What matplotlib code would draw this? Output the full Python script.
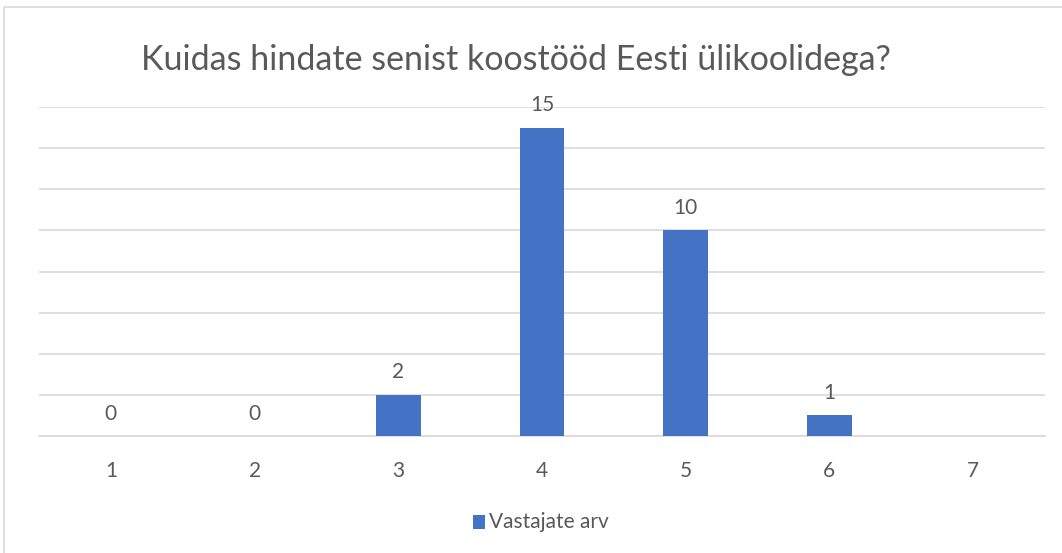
import matplotlib
matplotlib.use("Agg")
import matplotlib.pyplot as plt
import numpy as np
from matplotlib.patches import Rectangle

categories = ["1", "2", "3", "4", "5", "6", "7"]
values = [0, 0, 2, 15, 10, 1, np.nan]
series_name = "Vastajate arv"
title = "Kuidas hindate senist koostööd Eesti ülikoolidega?"

plt.rcParams['font.family'] = ['Lato', 'DejaVu Sans']
text_color = "#595959"
bar_color = "#4472C4"
grid_color = "#D9D9D9"

fig = plt.figure(figsize=(10.62, 5.53), dpi=100)
# outer chart border
fig.patches.append(Rectangle((4/1062, -0.1), 1.2, (553-7)/553 + 0.1, transform=fig.transFigure,
                             fill=False, edgecolor="#D9D9D9", linewidth=1.2))

ax = fig.add_axes([39/1062, 1-436/553, (1045-39)/1062, (436-107)/553])
x = np.arange(len(categories))
ax.bar(x, values, width=0.31, color=bar_color, zorder=3)
ax.set_xlim(-0.5, len(categories) - 0.5)
ax.set_ylim(0, 16)
ax.set_yticks(np.arange(0, 17, 2))
ax.yaxis.grid(True, color=grid_color, linewidth=1.2, zorder=0)
ax.set_yticklabels([])
ax.tick_params(axis='y', length=0)
ax.set_xticks(x)
ax.set_xticklabels(categories, fontsize=15, color=text_color)
ax.tick_params(axis='x', length=0, pad=18)
for s in ["top", "right", "left"]:
    ax.spines[s].set_visible(False)
ax.spines["bottom"].set_color(grid_color)
ax.spines["bottom"].set_linewidth(1.2)

for xi, v in zip(x, values):
    if np.isnan(v):
        continue
    ax.annotate(f"{int(v)}", (xi, v), xytext=(0, 9), textcoords="offset points",
                ha="center", va="bottom", fontsize=15, color=text_color)

fig.text(516/1062, 1-60/553, title, ha="center", va="center", fontsize=24.5, color=text_color)

# legend
fig.patches.append(Rectangle((473/1062, 1-529/553), 12/1062, 14/553, transform=fig.transFigure,
                             facecolor=bar_color, edgecolor="none"))
fig.text(489/1062, 1-522/553, series_name, ha="left", va="center", fontsize=15, color=text_color)

fig.savefig("out.png", dpi=100)
